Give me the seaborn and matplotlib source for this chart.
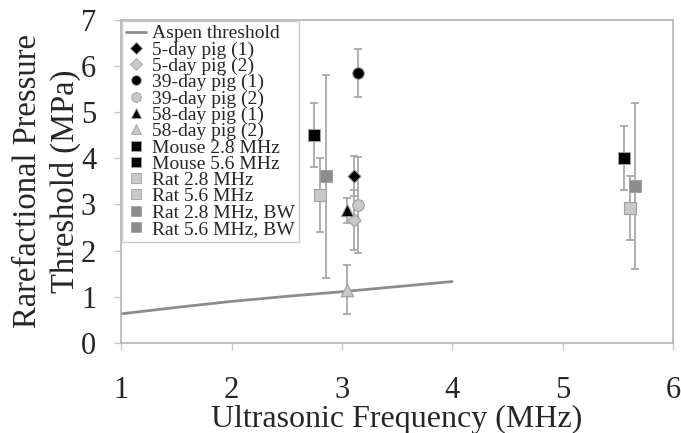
import matplotlib
matplotlib.use("Agg")
import matplotlib.pyplot as plt
import seaborn as sns
import pandas as pd
from matplotlib.lines import Line2D

# ---- data ----
aspen_freq = [1.0, 1.5, 2.0, 2.5, 3.0, 3.5, 4.0]
aspen_thresh = [0.63, 0.77, 0.90, 1.01, 1.11, 1.22, 1.33]

series = ["5-day pig (1)", "5-day pig (2)", "39-day pig (1)", "39-day pig (2)",
          "58-day pig (1)", "58-day pig (2)", "Mouse 2.8 MHz", "Mouse 5.6 MHz",
          "Rat 2.8 MHz", "Rat 5.6 MHz", "Rat 2.8 MHz, BW", "Rat 5.6 MHz, BW"]
freq = [3.11, 3.11, 3.15, 3.15, 3.05, 3.05, 2.75, 5.56, 2.80, 5.61, 2.86, 5.66]
thresh = [3.62, 2.67, 5.85, 2.99, 2.87, 1.15, 4.51, 4.01, 3.21, 2.92, 3.61, 3.41]
err = [0.43, 0.65, 0.52, 1.05, 0.28, 0.53, 0.70, 0.70, 0.80, 0.70, 2.20, 1.80]

x_ticks = [1, 2, 3, 4, 5, 6]
y_ticks = [0, 1, 2, 3, 4, 5, 6, 7]

# ---- styles ----
markers = ["D", "D", "o", "o", "^", "^", "s", "s", "s", "s", "s", "s"]
colors = ["#000000", "#c8c8c8", "#000000", "#c8c8c8", "#000000", "#c8c8c8",
          "#000000", "#000000", "#c8c8c8", "#c8c8c8", "#8c8c8c", "#8c8c8c"]
sizes = [45, 45, 70, 70, 80, 80, 80, 80, 80, 80, 80, 80]

sns.set_theme(style="white")
plt.rcParams["font.family"] = ["Liberation Serif", "DejaVu Serif"]

fig = plt.figure(figsize=(6.81, 4.33), dpi=100)
ax = fig.add_axes([0.178, 0.208, 0.810, 0.746])

df_aspen = pd.DataFrame({"f": aspen_freq, "p": aspen_thresh})
sns.lineplot(data=df_aspen, x="f", y="p", ax=ax, color="#8c8c8c", lw=2, zorder=2)

edge = "#a0a0a0"
for i in range(len(series)):
    ax.errorbar(freq[i], thresh[i], yerr=err[i], fmt="none", ecolor="#a8a8a8",
                elinewidth=1.3, capsize=3, capthick=1.3, zorder=3)
    d = pd.DataFrame({"f": [freq[i]], "p": [thresh[i]]})
    sns.scatterplot(data=d, x="f", y="p", ax=ax, marker=markers[i], s=sizes[i],
                    color=colors[i], edgecolor=edge, linewidth=0.8, zorder=4)

ax.set_xlim(1, 6)
ax.set_ylim(0, 7)
ax.set_xticks(x_ticks)
ax.set_yticks(y_ticks)
ax.tick_params(axis="both", labelsize=22, length=5, color="#c8c8c8", width=1,
               direction="out", bottom=True, left=True)
ax.tick_params(axis="x", pad=19)
ax.tick_params(axis="y", pad=13)
for s in ax.spines.values():
    s.set_color("#b4b4b4")
    s.set_linewidth(1.2)

ax.set_xlabel("Ultrasonic Frequency (MHz)", fontsize=23, labelpad=0)
ax.set_ylabel("Rarefactional Pressure\nThreshold (MPa)", fontsize=23.5, labelpad=0,
              linespacing=1.3)

handles = [Line2D([], [], color="#8c8c8c", lw=2)]
for i in range(len(series)):
    handles.append(Line2D([], [], ls="none", marker=markers[i],
                          markersize=6 if markers[i] == "D" else 7,
                          markerfacecolor=colors[i], markeredgecolor=edge,
                          markeredgewidth=0.6))
leg = ax.legend(handles, ["Aspen threshold"] + series, loc="upper left",
                bbox_to_anchor=(0.0, 1.0), fontsize=14.0, frameon=True,
                fancybox=False, edgecolor="#c8c8c8", framealpha=1,
                labelspacing=-0.07, handlelength=1.0, handletextpad=0.35,
                borderpad=0.2, borderaxespad=0.05)
leg.get_frame().set_linewidth(1.0)

fig.savefig("out.png", dpi=100)
